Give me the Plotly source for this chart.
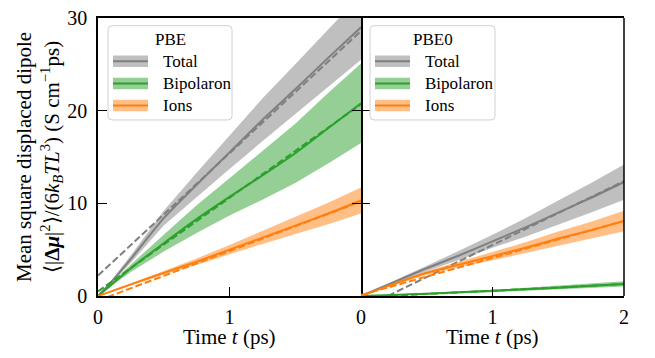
import plotly.graph_objects as go
from plotly.subplots import make_subplots

# ---------------- data ----------------
t = [0, 0.1, 0.25, 0.5, 0.75, 1.0, 1.25, 1.5, 1.75, 2.0]

pbe_total = [0, 1.5, 4.0, 8.4, 12.0, 15.5, 19.0, 22.3, 25.7, 29.0]
pbe_total_err = [0, 0.15, 0.4, 0.8, 1.3, 1.8, 2.3, 2.7, 3.1, 3.5]
pbe_bipolaron = [0, 1.2, 3.0, 5.7, 8.3, 10.7, 13.0, 15.4, 18.1, 20.8]
pbe_bipolaron_err = [0, 0.15, 0.4, 0.9, 1.5, 2.0, 2.6, 3.2, 3.8, 4.3]
pbe_ions = [0, 0.5, 1.25, 2.5, 3.7, 5.0, 6.3, 7.6, 8.9, 10.3]
pbe_ions_err = [0, 0.04, 0.1, 0.2, 0.35, 0.5, 0.7, 0.9, 1.15, 1.4]

pbe0_total = [0, 0.6, 1.5, 3.0, 4.4, 5.9, 7.4, 9.0, 10.6, 12.3]
pbe0_total_err = [0, 0.05, 0.15, 0.3, 0.5, 0.7, 1.0, 1.3, 1.6, 1.9]
pbe0_bipolaron = [0, 0.05, 0.12, 0.25, 0.4, 0.55, 0.72, 0.9, 1.1, 1.3]
pbe0_bipolaron_err = [0, 0.01, 0.03, 0.06, 0.09, 0.12, 0.16, 0.2, 0.24, 0.28]
pbe0_ions = [0, 0.52, 1.3, 2.5, 3.4, 4.3, 5.2, 6.2, 7.1, 8.1]
pbe0_ions_err = [0, 0.04, 0.1, 0.2, 0.3, 0.45, 0.6, 0.75, 0.9, 1.1]

# linear fits (dashed), values at fit_t
fit_t = [0, 2]
pbe_total_fit = [2.2, 28.6]
pbe_bipolaron_fit = [0.5, 20.7]
pbe_ions_fit = [-0.5, 10.2]
pbe0_total_fit = [-1.4, 12.4]
pbe0_bipolaron_fit = [-0.15, 1.29]
pbe0_ions_fit = [0.1, 8.1]

series_names = ["Total", "Bipolaron", "Ions"]
panel_titles = ["PBE", "PBE0"]
x_ticks = [0, 1, 2]
y_ticks = [0, 10, 20, 30]

# ---------------- style ----------------
FONT = "Liberation Serif, Times New Roman, Tinos, serif"
colors = {"Total": "#7f7f7f", "Bipolaron": "#2ca02c", "Ions": "#ff7f0e"}
fills = {"Total": "rgba(127,127,127,0.5)", "Bipolaron": "rgba(44,160,44,0.5)",
         "Ions": "rgba(255,127,14,0.5)"}

W, H = 655, 358
ML, MR, MT, MB = 98, 31, 7, 62
PW, PH = W - ML - MR, H - MT - MB

fig = make_subplots(rows=1, cols=2, shared_yaxes=True, horizontal_spacing=0)

panels = [
    (1, {"Total": (pbe_total, pbe_total_err, pbe_total_fit),
         "Bipolaron": (pbe_bipolaron, pbe_bipolaron_err, pbe_bipolaron_fit),
         "Ions": (pbe_ions, pbe_ions_err, pbe_ions_fit)}),
    (2, {"Total": (pbe0_total, pbe0_total_err, pbe0_total_fit),
         "Bipolaron": (pbe0_bipolaron, pbe0_bipolaron_err, pbe0_bipolaron_fit),
         "Ions": (pbe0_ions, pbe0_ions_err, pbe0_ions_fit)}),
]

for col, data in panels:
    for name in series_names:
        y, e, fit = data[name]
        upper = [a + b for a, b in zip(y, e)]
        lower = [a - b for a, b in zip(y, e)]
        fig.add_trace(go.Scatter(x=t + t[::-1], y=upper + lower[::-1], fill="toself",
                                 fillcolor=fills[name], line=dict(width=0),
                                 mode="lines", hoverinfo="skip", showlegend=False),
                      row=1, col=col)
        fig.add_trace(go.Scatter(x=t, y=y, mode="lines", line=dict(color=colors[name], width=2,
                                 shape="spline", smoothing=0.6), showlegend=False),
                      row=1, col=col)
        fig.add_trace(go.Scatter(x=fit_t, y=fit, mode="lines",
                                 line=dict(color=colors[name], width=2, dash="7px,3px"),
                                 showlegend=False), row=1, col=col)

axis_common = dict(range=[0, 2], ticks="inside", ticklen=9, tickwidth=1.4, tickcolor="black",
                   showline=True, linecolor="black", linewidth=1.5, mirror=True,
                   showgrid=False, zeroline=False, tickvals=x_ticks,
                   tickfont=dict(family=FONT, size=20, color="black"), ticklabelstandoff=2,
                   ticklabeloverflow="allow")
fig.update_xaxes(**axis_common, ticktext=["0", "1", ""], row=1, col=1)
fig.update_xaxes(**axis_common, ticktext=["0", "1", "2"], row=1, col=2)

fig.update_yaxes(range=[0, 30], ticks="inside", ticklen=9, tickwidth=1.4, tickcolor="black",
                 showline=True, linecolor="black", linewidth=1.5, mirror="ticks",
                 showgrid=False, zeroline=False, tickvals=y_ticks,
                 tickfont=dict(family=FONT, size=20, color="black"), ticklabelstandoff=5,
                 ticklabeloverflow="allow", row=1, col=1)
fig.update_yaxes(range=[0, 30], ticks="inside", ticklen=9, tickwidth=1.4, tickcolor="black",
                 showline=False, showgrid=False, zeroline=False, tickvals=y_ticks,
                 showticklabels=False, row=1, col=2)


def px2paper(px, py):
    return (px - ML) / PW, (H - MB - py) / PH


def rounded_path(x0, y0, x1, y1, r=4):
    ax0, ay0 = px2paper(x0, y0)
    ax1, ay1 = px2paper(x1, y1)
    rx, ry = r / PW, r / PH
    return (f"M {ax0+rx},{ay0} L {ax1-rx},{ay0} Q {ax1},{ay0} {ax1},{ay0-ry} "
            f"L {ax1},{ay1+ry} Q {ax1},{ay1} {ax1-rx},{ay1} L {ax0+rx},{ay1} "
            f"Q {ax0},{ay1} {ax0},{ay1+ry} L {ax0},{ay0-ry} Q {ax0},{ay0} {ax0+rx},{ay0} Z")


shapes = []
annotations = []
# right border of the right panel (axis frame)
shapes.append(dict(type="line", xref="x2 domain", yref="y2 domain", x0=1, x1=1, y0=0, y1=1,
                   line=dict(color="black", width=1.5)))
legend_boxes = [(108, 232, panel_titles[0]), (370, 495, panel_titles[1])]
for (bx0, bx1, title) in legend_boxes:
    shapes.append(dict(type="path", xref="paper", yref="paper", path=rounded_path(bx0, 15, bx1, 113),
                       line=dict(color="#d0d0d0", width=1), fillcolor="rgba(255,255,255,0.8)"))
    cx, cy = px2paper((bx0 + bx1) / 2, 29)
    annotations.append(dict(xref="paper", yref="paper", x=cx, y=cy, text=title, showarrow=False,
                            xanchor="center", yanchor="middle",
                            font=dict(family=FONT, size=17, color="black")))
    for i, name in enumerate(series_names):
        ry = 52 + i * 23
        hx0, hx1 = bx0 + 5, bx0 + 40
        a0 = px2paper(hx0, ry - 6)
        a1 = px2paper(hx1, ry + 6)
        shapes.append(dict(type="rect", xref="paper", yref="paper", x0=a0[0], x1=a1[0],
                           y0=a1[1], y1=a0[1], line=dict(width=0), fillcolor=fills[name]))
        l0 = px2paper(hx0, ry)
        l1 = px2paper(hx1, ry)
        shapes.append(dict(type="line", xref="paper", yref="paper", x0=l0[0], x1=l1[0],
                           y0=l0[1], y1=l1[1], line=dict(color=colors[name], width=2)))
        tx, ty = px2paper(bx0 + 53, ry)
        annotations.append(dict(xref="paper", yref="paper", x=tx, y=ty, text=name, showarrow=False,
                                xanchor="left", yanchor="middle",
                                font=dict(family=FONT, size=17, color="black")))

# axis titles
for xr in ["x", "x2"]:
    _, yy = px2paper(0, 339)
    annotations.append(dict(xref=xr, yref="paper", x=1, y=yy, text="Time <i>t</i> (ps)",
                            showarrow=False, xanchor="center", yanchor="middle",
                            font=dict(family=FONT, size=21, color="black")))

x1p, ymid = px2paper(24, 151.5)
x2p, _ = px2paper(51, 151.5)
annotations.append(dict(xref="paper", yref="paper", x=x1p, y=ymid, text="Mean square displaced dipole",
                        textangle=-90, showarrow=False, xanchor="center", yanchor="middle",
                        font=dict(family=FONT, size=21, color="black")))
annotations.append(dict(xref="paper", yref="paper", x=x2p, y=ymid,
                        text="⟨|<b>Δ<i>μ</i></b>|<sup>2</sup>⟩/(6<i>k</i><sub><i>B</i></sub><i>TL</i><sup>3</sup>) (S cm<sup>−1</sup>ps)",
                        textangle=-90, showarrow=False, xanchor="center", yanchor="middle",
                        font=dict(family=FONT, size=21, color="black")))

fig.update_layout(width=W, height=H, margin=dict(l=ML, r=MR, t=MT, b=MB),
                  plot_bgcolor="white", paper_bgcolor="white", showlegend=False,
                  shapes=shapes, annotations=annotations,
                  font=dict(family=FONT, size=20, color="black"))

fig.write_html("out.html", config={"displayModeBar": False},
               post_script="document.body.style.margin='0px';")
